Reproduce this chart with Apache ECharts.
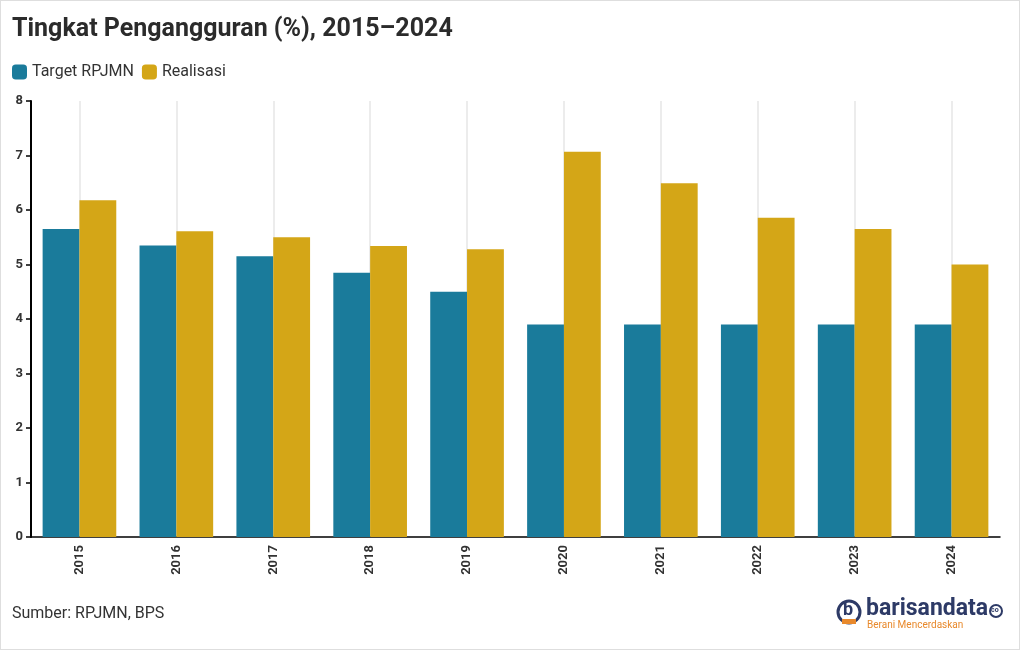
<!DOCTYPE html>
<html>
<head>
<meta charset="utf-8">
<script src="https://cdn.jsdelivr.net/npm/echarts@6/dist/echarts.min.js"></script>
<style>
html,body{margin:0;padding:0;background:#fff;}
#wrap{position:absolute;left:0;top:0;width:1018px;height:648px;border:1px solid #dedede;}
#chart{width:1018px;height:648px;}
</style>
</head>
<body>
<div id="wrap"><div id="chart"></div></div>
<script>
const years = ['2015','2016','2017','2018','2019','2020','2021','2022','2023','2024'];
const targetRPJMN = [5.65, 5.35, 5.15, 4.85, 4.5, 3.9, 3.9, 3.9, 3.9, 3.9];
const realisasi = [6.18, 5.61, 5.50, 5.34, 5.28, 7.07, 6.49, 5.86, 5.65, 5.00];
const yTicks = [0, 1, 2, 3, 4, 5, 6, 7, 8];

const chart = echarts.init(document.getElementById('chart'));
const FONT = 'Roboto';
chart.setOption({
  animation: false,
  textStyle: {fontFamily: FONT},
  title: {
    text: 'Tingkat Pengangguran (%), 2015\u20132024',
    left: 6, top: 11,
    textStyle: {fontFamily: FONT, fontSize: 25, fontWeight: 'bold', color: '#2b2b2b'}
  },
  legend: {
    left: 6, top: 58,
    itemWidth: 15, itemHeight: 15, itemGap: 8,
    icon: 'roundRect',
    textStyle: {fontFamily: FONT, fontSize: 16, color: '#333'},
    data: ['Target RPJMN', 'Realisasi']
  },
  grid: {left: 30, right: 19, top: 100, bottom: 112, containLabel: false},
  xAxis: {
    type: 'category',
    data: years,
    axisLine: {lineStyle: {color: '#000', width: 1.5}},
    axisTick: {alignWithLabel: true, length: 5, lineStyle: {color: '#000', width: 1.5}},
    splitLine: {show: true, alignWithLabel: true, lineStyle: {color: '#e6e6e6', width: 1.5}},
    axisLabel: {rotate: 90, fontSize: 13, fontWeight: 'bold', color: '#333', margin: 8, fontFamily: FONT}
  },
  yAxis: {
    type: 'value',
    min: yTicks[0], max: yTicks[yTicks.length - 1], interval: 1,
    axisLine: {show: true, lineStyle: {color: '#000', width: 2}},
    axisTick: {show: true, length: 5, lineStyle: {color: '#000', width: 1.5}},
    splitLine: {show: false},
    axisLabel: {fontSize: 13, fontWeight: 'bold', color: '#333', margin: 8, fontFamily: FONT}
  },
  series: [
    {name: 'Target RPJMN', type: 'bar', data: targetRPJMN, barGap: '0%', barCategoryGap: '24%',
     itemStyle: {color: '#1a7b9b'}},
    {name: 'Realisasi', type: 'bar', data: realisasi, barGap: '0%', barCategoryGap: '24%',
     itemStyle: {color: '#d4a617'}}
  ],
  graphic: [
    {type: 'text', left: 11, top: 605,
     style: {text: 'Sumber: RPJMN, BPS', font: '16px Roboto', fill: '#333'}},
    {type: 'circle', shape: {cx: 848, cy: 611, r: 11}, style: {fill: 'none', stroke: '#2d3a66', lineWidth: 3}},
    {type: 'text', x: 842, y: 600, style: {text: 'b', font: 'bold 18px Roboto', fill: '#2d3a66'}},
    {type: 'rect', shape: {x: 841, y: 618, width: 14, height: 5}, style: {fill: '#e8892c'}},
    {type: 'text', x: 865, y: 597,
     style: {text: 'barisandata', font: 'bold 23px Roboto', fill: '#2d3a66'}},
    {type: 'circle', shape: {cx: 995, cy: 610, r: 6}, style: {fill: 'none', stroke: '#2d3a66', lineWidth: 2}},
    {type: 'text', x: 990, y: 606, style: {text: 'co', font: 'bold 7px Roboto', fill: '#2d3a66'}},
    {type: 'text', x: 866, y: 619,
     style: {text: 'Berani Mencerdaskan', font: '10px Roboto', fill: '#e8892c'}}
  ]
});
</script>
</body>
</html>
